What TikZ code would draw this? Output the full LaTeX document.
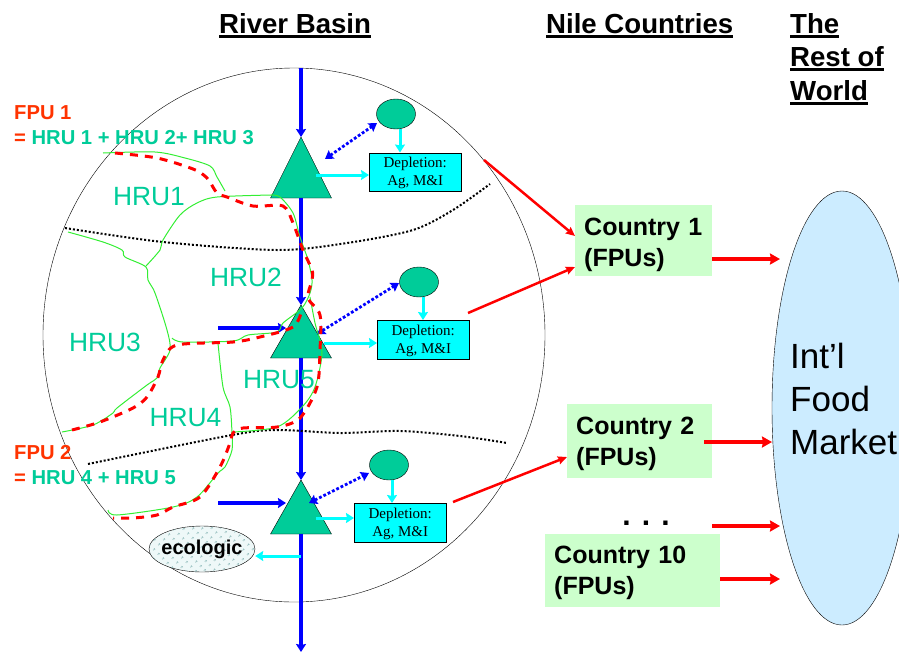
\documentclass[tikz,border=0pt]{standalone}
\usepackage{fontspec}
\setmainfont{Liberation Serif}
\setsansfont{Liberation Sans}
\usetikzlibrary{arrows.meta,shapes.geometric,patterns.meta}

\definecolor{hruGreen}{HTML}{00CC99}
\definecolor{fpuRed}{HTML}{FF3300}
\definecolor{countryGreen}{HTML}{CCFFCC}
\definecolor{marketBlue}{HTML}{CCECFF}
\definecolor{borderGreen}{HTML}{33EE33}
\definecolor{useCyan}{HTML}{00FFFF}
\definecolor{ecoFill}{HTML}{EEF8F8}
\definecolor{ecoDots}{HTML}{7FB0B0}

\newcommand{\titletext}[1]{\setbox0\hbox{#1}\rlap{\copy0}\rule[-4.5pt]{\wd0}{2.7pt}}
\newcommand{\depletiontext}{\rule{0pt}{13pt}Depletion:\\Ag, M\&I}

\tikzset{
  gauge/.style={draw,fill=hruGreen,isosceles triangle,isosceles triangle stretches,shape border rotate=90,inner sep=0pt,outer sep=0pt,anchor=apex,minimum width=61pt},
  reservoir/.style={draw,fill=hruGreen,ellipse,inner sep=0pt,minimum width=39pt,minimum height=30pt},
  depletion/.style={draw,fill=useCyan,inner sep=0pt,anchor=north west,minimum width=92pt,minimum height=38.5pt,align=center,font=\fontsize{15}{18}\selectfont},
  country/.style={fill=countryGreen,anchor=north west,inner xsep=9pt,inner ysep=0pt,align=left,font=\sffamily\bfseries\fontsize{25}{31}\selectfont},
  hru/.style={text=hruGreen,inner sep=0pt,font=\sffamily\fontsize{26.4}{30}\selectfont},
  title/.style={anchor=base west,inner sep=0pt,font=\sffamily\bfseries\fontsize{27.6}{33}\selectfont},
  fpu/.style={anchor=base west,inner sep=0pt,text=fpuRed,font=\sffamily\bfseries\fontsize{20.2}{24}\selectfont},
  river/.style={blue,line width=3.2pt,-{Stealth[length=8pt,width=10pt,inset=1pt]}},
  link/.style={blue,line width=2.8pt,dotted,{Stealth[length=8pt,width=10pt,inset=1pt]}-{Stealth[length=8pt,width=10pt,inset=1pt]}},
  use/.style={useCyan,line width=3pt,-{Stealth[length=8pt,width=10pt,inset=1pt]}},
  trade/.style={red,line width=2.5pt,-{Stealth[length=9pt,width=8pt,inset=1pt]}},
  export/.style={red,line width=3.6pt,-{Stealth[length=10pt,width=11pt,inset=1pt]}},
  basinline/.style={line width=2pt,dotted},
  hruline/.style={borderGreen,line width=1pt},
  fpuline/.style={red,line width=3pt,dash pattern=on 8pt off 7pt}
}

\begin{document}
\begin{tikzpicture}[x=1pt,y=-1pt]
  \useasboundingbox (0,0) rectangle (899,654);

  % basin and market
  \node[draw,ellipse,inner sep=0pt,minimum width=502pt,minimum height=534pt] (basin) at (294,335) {};
  \node[draw,fill=marketBlue,ellipse,inner sep=0pt,minimum width=140pt,minimum height=434pt] (market) at (842,408) {};
  \node[anchor=north west,inner sep=0pt,align=left,font=\sffamily\fontsize{35}{43}\selectfont] (marketLabel) at (790,342.5) {Int’l\\Food\\Market};

  % titles
  \node[title] (titleBasin) at (219,33) {\titletext{River Basin}};
  \node[title] (titleNile) at (546,33) {\titletext{Nile Countries}};
  \node[title] (titleRestA) at (790,33) {\titletext{The}};
  \node[title] (titleRestB) at (790,66) {\titletext{Rest of}};
  \node[title] (titleRestC) at (790,100) {\titletext{World}};

  % gauges
  \node[gauge,minimum height=61pt] (gaugeA) at (301,137) {};
  \node[gauge,minimum height=53pt] (gaugeB) at (301,305) {};
  \node[gauge,minimum height=54pt] (gaugeC) at (301,480) {};

  \node[reservoir] (resA) at (396,114) {};
  \node[reservoir] (resB) at (419,282) {};
  \node[reservoir] (resC) at (389,465) {};

  \node[depletion] (depA) at (369,152.5) {\depletiontext};
  \node[depletion] (depB) at (377,320) {\depletiontext};
  \node[depletion] (depC) at (354,503) {\depletiontext};

  \node[draw,ellipse,inner sep=0pt,minimum width=106pt,minimum height=46pt,fill=ecoFill,postaction={pattern={Dots[distance=6.5pt,radius=1pt,angle=45]},pattern color=ecoDots}] (ecologic) at (202,549) {};
  \node[inner sep=0pt,font=\sffamily\bfseries\fontsize{20}{24}\selectfont] (ecologicLabel) at (ecologic.center) {ecologic};

  % river
  \coordinate (source) at (301,68);
  \coordinate (outlet) at (301,652);
  \coordinate (inflowB) at (218,328);
  \coordinate (inflowC) at (218,503);
  \coordinate (inflowEndB) at (286,328);
  \coordinate (inflowEndC) at (286,503);
  \coordinate (intakeEco) at (301,556);
  \draw[river] (source) -- (gaugeA.apex);
  \draw[river] (gaugeA.south) -- (gaugeB.apex);
  \draw[river] (gaugeB.south) -- (gaugeC.apex);
  \draw[river] (gaugeC.south) -- (outlet);
  \draw[river] (inflowB) -- (inflowEndB);
  \draw[river] (inflowC) -- (inflowEndC);

  % reservoir links
  \coordinate (linkA) at (325,159);
  \coordinate (linkB) at (317,334);
  \coordinate (linkC) at (309,503);
  \coordinate (linkResA) at (377,123);
  \coordinate (linkResB) at (399,283);
  \coordinate (linkResC) at (369,473);
  \draw[link] (linkA) -- (linkResA);
  \draw[link] (linkB) -- (linkResB);
  \draw[link] (linkC) -- (linkResC);

  % withdrawals
  \coordinate (outA) at (316,175);
  \coordinate (outB) at (324,343);
  \coordinate (outC) at (316,518);
  \coordinate (relA) at (400,129);
  \coordinate (relB) at (423,297);
  \coordinate (relC) at (392,480);
  \draw[use] (outA) -- (outA -| depA.west);
  \draw[use] (outB) -- (outB -| depB.west);
  \draw[use] (outC) -- (outC -| depC.west);
  \draw[use] (relA) -- (relA |- depA.north);
  \draw[use] (relB) -- (relB |- depB.north);
  \draw[use] (relC) -- (relC |- depC.north);
  \draw[use] (intakeEco) -- (intakeEco -| ecologic.east);

  % basin borders
  \draw[basinline] plot[smooth] coordinates {(65,228) (163,242) (277,250) (347,243) (413,230) (453,210) (490,184)};
  \draw[basinline] plot[smooth] coordinates {(88,464) (232,435) (277,430) (340,433) (400,431) (460,436) (507,443)};

  % hru borders
  \draw[hruline] plot[smooth] coordinates {(103,153) (155,152) (185,158) (210,166) (217,177) (225,191)};
  \draw[hruline] plot[smooth] coordinates {(271,195) (217,197) (197,203) (180,215) (163,240) (160,250) (146,266)};
  \draw[hruline] plot[smooth] coordinates {(68,232) (103,242) (122,250) (125,257) (146,267) (148,280) (155,293) (167,330) (170,350) (160,368) (157,378) (147,385) (117,408) (113,413) (93,425) (62,432)};
  \draw[hruline] plot[smooth] coordinates {(271,195) (280,197) (293,213) (300,237) (308,260) (312,280) (310,293) (302,308) (283,323) (277,332) (248,335) (233,341) (183,342) (172,338)};
  \draw[hruline] plot[smooth] coordinates {(310,297) (315,323) (322,352) (315,387) (302,407) (277,427) (233,432)};
  \draw[hruline] plot[smooth] coordinates {(218,343) (223,387) (230,407) (232,433) (232,450) (225,467) (218,473) (197,497) (173,507) (117,515) (108,510)};

  % fpu borders
  \draw[fpuline] plot[smooth] coordinates {(115,153) (157,158) (193,169) (207,178) (217,193) (227,197) (253,206) (283,206) (293,223) (303,250) (312,270) (312,280) (308,298) (320,315) (320,350) (317,387) (300,418) (277,427) (243,428) (233,433) (230,443) (220,467) (200,497) (173,507) (157,515) (133,518) (113,518)};
  \draw[fpuline] plot[smooth] coordinates {(72,430) (100,422) (133,408) (147,397) (158,377) (163,360) (177,345) (233,342) (260,337) (293,327) (302,310)};

  % labels
  \node[hru] (hruA) at (149,197) {HRU1};
  \node[hru] (hruB) at (246,277) {HRU2};
  \node[hru] (hruC) at (105,342) {HRU3};
  \node[hru] (hruD) at (185.5,418) {HRU4};
  \node[hru] (hruE) at (279,380) {HRU5};

  \node[fpu] (fpuA) at (14,119) {FPU 1};
  \node[fpu] (fpuAdef) at (14,144) {= \textcolor{hruGreen}{HRU 1 + HRU 2+ HRU 3}};
  \node[fpu] (fpuB) at (14,459) {FPU 2};
  \node[fpu] (fpuBdef) at (14,484) {= \textcolor{hruGreen}{HRU 4 + HRU 5}};

  % countries
  \node[country,text width=119pt,minimum height=71pt] (countryA) at (575,205) {\rule{0pt}{26pt}Country 1\\(FPUs)};
  \node[country,text width=127pt,minimum height=74pt,inner xsep=9pt] (countryB) at (567,404) {\rule{0pt}{22pt}Country 2\\(FPUs)};
  \node[country,text width=157pt,minimum height=73pt] (countryC) at (545,534) {\rule{0pt}{22pt}Country 10\\(FPUs)};
  \node[anchor=base,inner sep=0pt,font=\sffamily\bfseries\fontsize{30}{30}\selectfont] (dots) at (646,525) {. . .};

  % trade
  \coordinate (tradeA) at (484,160);
  \coordinate (tradeB) at (468,313);
  \coordinate (tradeC) at (453,502);
  \coordinate (inA) at (575,236);
  \coordinate (inB) at (575,267);
  \coordinate (inC) at (567,457);
  \draw[trade] (tradeA) -- (inA);
  \draw[trade] (tradeB) -- (inB);
  \draw[trade] (tradeC) -- (inC);

  \coordinate (sellA) at (712,259);
  \coordinate (sellB) at (704,442);
  \coordinate (sellDots) at (712,526);
  \coordinate (sellC) at (720,579);
  \coordinate (buyA) at (780,259);
  \coordinate (buyB) at (772,442);
  \coordinate (buyDots) at (780,526);
  \coordinate (buyC) at (780,579);
  \draw[export] (sellA) -- (buyA);
  \draw[export] (sellB) -- (buyB);
  \draw[export] (sellDots) -- (buyDots);
  \draw[export] (sellC) -- (buyC);

\end{tikzpicture}
\end{document}
